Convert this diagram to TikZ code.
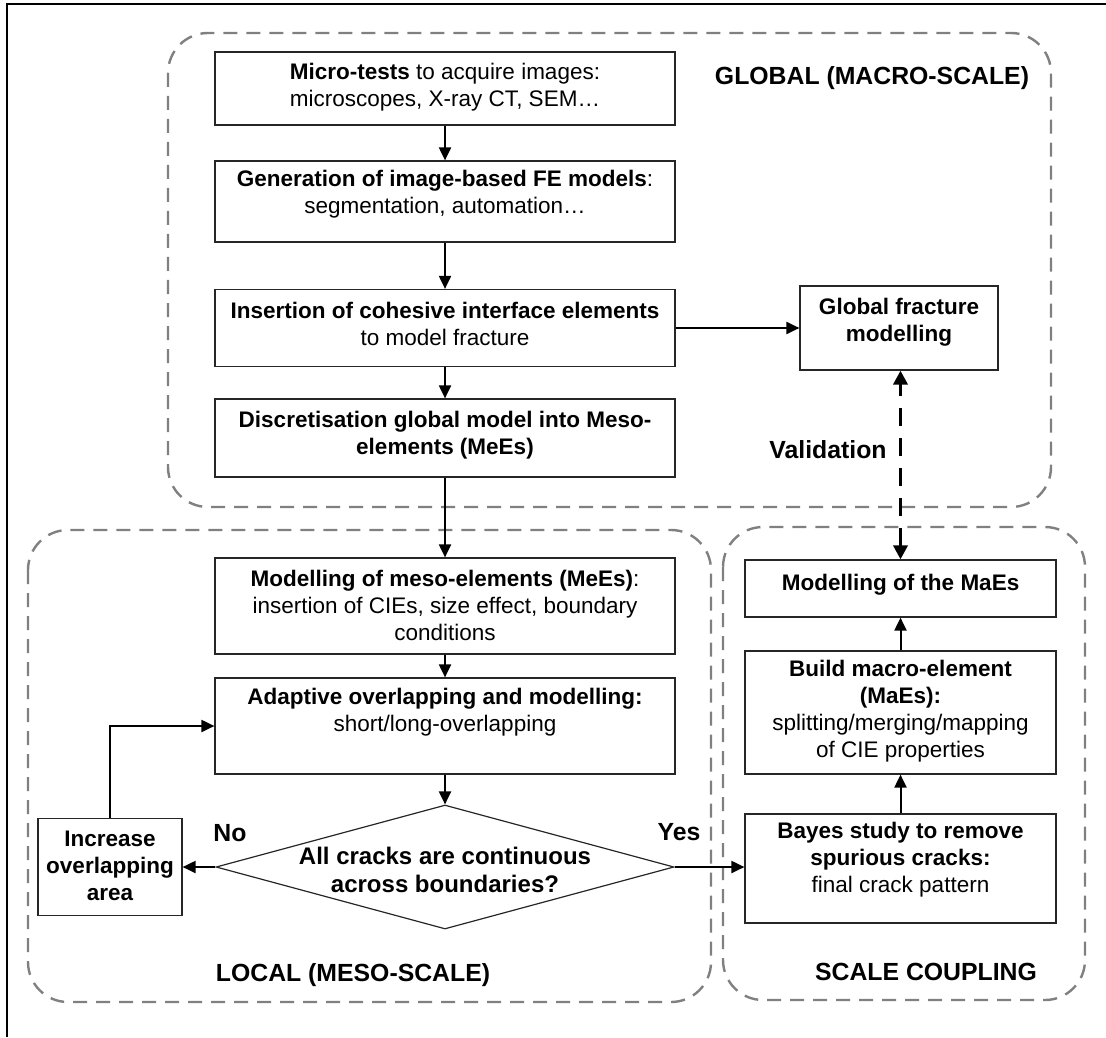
\documentclass[tikz,border=0pt]{standalone}
\usepackage{fontspec}
\setmainfont{Liberation Sans}
\usepackage{tikz}
\usetikzlibrary{shapes.geometric, positioning, arrows.meta, calc}

\begin{document}
\begin{tikzpicture}[x=0.5pt, y=-0.5pt,
    region/.style={draw=gray, line width=1.2pt, dash pattern=on 7pt off 4.5pt, rounded corners=20pt},
    stage/.style={rectangle, draw=black!85, line width=0.6pt, inner sep=0pt, minimum width=230pt},
    stagetext/.style={align=center, inner sep=0pt, font=\fontsize{11.25}{13.5}\selectfont},
    decision/.style={diamond, draw=black!85, line width=0.6pt, inner sep=0pt,
                     minimum width=229pt, minimum height=62pt},
    heading/.style={inner sep=0pt, font=\fontsize{12.4}{14}\selectfont\bfseries},
    flow/.style={-{Triangle[length=6.5pt, width=6pt]}, line width=1pt},
    valid/.style={{Triangle[length=7pt, width=7pt]}-{Triangle[length=7pt, width=7pt]},
                  line width=1.8pt, dash pattern=on 9pt off 6pt}
]
    \useasboundingbox (0,0) rectangle (1106,1037);

    % --- Page frame ---
    \draw[line width=1pt] (7,1037) -- (7,4) -- (1106,4);

    % --- Scale regions ---
    \draw[region] (168,33)  rectangle (1051,507);
    \draw[region] (28,530)  rectangle (711,1002);
    \draw[region] (723,527) rectangle (1085,1000);
    \node[heading] (globtitle) at (872,78)  {GLOBAL (MACRO-SCALE)};
    \node[heading] (loctitle)  at (353,975) {LOCAL (MESO-SCALE)};
    \node[heading] (couptitle) at (926,972) {SCALE COUPLING};

    % --- Global (macro-scale) ---
    \node[stage, minimum height=36.5pt] (micro) at (445,88.5) {};
    \node[stagetext] (micro-t) at (445,87)
        {\textbf{Micro-tests} to acquire images:\\microscopes, X-ray CT, SEM…};
    \node[stage, minimum height=40.5pt] (gen) at (445,201.5) {};
    \node[stagetext] (gen-t) at (445,194)
        {\textbf{Generation of image-based FE models}:\\segmentation, automation…};
    \node[stage, minimum height=38.5pt] (coh) at (445,328) {};
    \node[stagetext] (coh-t) at (445,324)
        {\textbf{Insertion of cohesive interface elements}\\to model fracture};
    \node[stage, minimum height=39pt] (disc) at (445,438) {};
    \node[stagetext] (disc-t) at (445,435)
        {\textbf{Discretisation global model into Meso-}\\\textbf{elements (MeEs)}};
    \node[stage, minimum width=99pt, minimum height=42pt] (gfrac) at (899,328) {};
    \node[stagetext] (gfrac-t) at (899,322)
        {\textbf{Global fracture}\\\textbf{modelling}};

    % --- Local (meso-scale) ---
    \node[stage, minimum height=48pt] (meso) at (445,606) {};
    \node[stagetext] (meso-t) at (445,605)
        {\textbf{Modelling of meso-elements (MeEs)}:\\insertion of CIEs, size effect, boundary\\conditions};
    \node[stage, minimum height=48pt] (adapt) at (445,726) {};
    \node[stagetext] (adapt-t) at (445,712)
        {\textbf{Adaptive overlapping and modelling:}\\short/long-overlapping};
    \node[decision] (check) at (445,867) {};
    \node[stagetext, font=\fontsize{12}{14}\selectfont\bfseries] (check-t) at (445,870)
        {All cracks are continuous\\across boundaries?};
    \node[stage, minimum width=72pt, minimum height=48.5pt] (incr) at (110,867) {};
    \node[stagetext] (incr-t) at (110,866)
        {\textbf{Increase}\\\textbf{overlapping}\\\textbf{area}};
    \node[heading] (no)  at (230,833) {No};
    \node[heading] (yes) at (679,832) {Yes};

    % --- Scale coupling ---
    \node[stage, minimum width=155.5pt, minimum height=28.5pt] (mae) at (900.5,588.5) {};
    \node[stagetext] (mae-t) at (900.5,585) {\textbf{Modelling of the MaEs}};
    \node[stage, minimum width=155.5pt, minimum height=61.5pt] (build) at (900.5,712.5) {};
    \node[stagetext] (build-t) at (900.5,711)
        {\textbf{Build macro-element}\\\textbf{(MaEs):}\\splitting/merging/mapping\\of CIE properties};
    \node[stage, minimum width=155.5pt, minimum height=54.5pt] (bayes) at (900.5,868.5) {};
    \node[stagetext] (bayes-t) at (900.5,860)
        {\textbf{Bayes study to remove}\\\textbf{spurious cracks:}\\final crack pattern};
    \node[heading] (validlbl) at (828,450) {Validation};

    % --- Connectors ---
    \draw[flow] (micro) -- (gen);
    \draw[flow] (gen)   -- (coh);
    \draw[flow] (coh)   -- (disc);
    \draw[flow] (coh.east) -- (coh.east -| gfrac.west);
    \draw[flow] (disc)  -- (meso);
    \draw[flow] (meso)  -- (adapt);
    \draw[flow] (adapt) -- (check);
    \draw[flow] (check.west) -- (check.west -| incr.east);
    \draw[flow] (incr.north) |- (adapt.west);
    \draw[flow] (check.east) -- (check.east -| bayes.west);
    \draw[flow] (bayes) -- (build);
    \draw[flow] (build) -- (mae);
    \draw[valid] (mae.north) -- (mae.north |- gfrac.south);
\end{tikzpicture}
\end{document}
